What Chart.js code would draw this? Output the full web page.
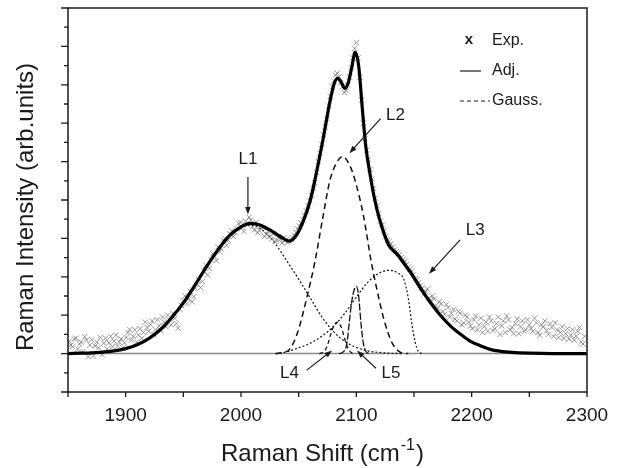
<!DOCTYPE html>
<html lang="en">
<head>
    <meta charset="UTF-8">
    <title>Raman spectrum - Gaussian fit</title>
    <script src="https://cdn.jsdelivr.net/npm/chart.js"></script>
    <style>
        body { margin: 0; background: #fff; }
        .chart-box { position: relative; width: 620px; height: 468px; }
    </style>
</head>
<body>
    <div class="chart-box">
        <canvas id="ramanChart"></canvas>
    </div>

    <script>
        // axis ticks
        const xTicks = [1850, 1900, 1950, 2000, 2050, 2100, 2150, 2200, 2250, 2300];
        const xLabels = [1900, 2000, 2100, 2200, 2300];
        const yMajor = [-1, 0, 1, 2, 3, 4, 5, 6, 7, 8, 9];
        const yMinor = [-0.5, 0.5, 1.5, 2.5, 3.5, 4.5, 5.5, 6.5, 7.5, 8.5];

        // experimental points (Exp.)
        const expX = [1851, 1854, 1857, 1860, 1863, 1866, 1869, 1872, 1875, 1878, 1881, 1884, 1887, 1890, 1893, 1896, 1899,
            1902, 1905, 1908, 1911, 1914, 1917, 1920, 1923, 1926, 1929, 1932, 1935, 1938, 1941, 1944, 1947,
            1950, 1953, 1956, 1959, 1962, 1965, 1968, 1971, 1974, 1977, 1980, 1983, 1986, 1989, 1992, 1995, 1998,
            2001, 2004, 2007, 2010, 2013, 2016, 2019, 2022, 2025, 2028, 2031, 2034, 2037, 2040, 2043, 2046, 2049,
            2052, 2055, 2058, 2061, 2064, 2067, 2070, 2073, 2076, 2079, 2082, 2085, 2088, 2091, 2094, 2097, 2100,
            2103, 2106, 2109, 2112, 2115, 2118, 2121, 2124, 2127, 2130, 2133, 2136, 2139, 2142, 2145, 2148, 2151,
            2154, 2157, 2160, 2163, 2166, 2169, 2172, 2175, 2178, 2181, 2184, 2187, 2190, 2193, 2196, 2199, 2202,
            2205, 2208, 2211, 2214, 2217, 2220, 2223, 2226, 2229, 2232, 2235, 2238, 2241, 2244, 2247, 2250, 2253,
            2256, 2259, 2262, 2265, 2268, 2271, 2274, 2277, 2280, 2283, 2286, 2289, 2292, 2295, 2298];
        const expY = [0.32, 0.18, 0.40, 0.25, 0.05, 0.35, 0.22, -0.06, 0.30, 0.42, 0.27, 0.12, 0.45, 0.33, 0.20, 0.38, 0.28,
            0.55, 0.35, 0.62, 0.48, 0.40, 0.82, 0.58, 0.85, 0.62, 0.72, 0.95, 0.70, 0.88, 1.05, 0.78, 1.15,
            1.38, 1.30, 1.62, 1.48, 1.80, 1.72, 2.15, 2.05, 2.45, 2.52, 2.78, 2.72, 3.00, 2.95, 3.20, 3.15, 3.38,
            3.28, 3.45, 3.55, 3.30, 3.42, 3.20, 3.28, 3.10, 3.05, 3.12, 2.95, 2.98, 3.02, 2.90, 2.98, 3.08, 3.25,
            3.40, 3.60, 3.85, 4.12, 4.45, 5.00, 5.45, 5.90, 6.45, 6.95, 7.25, 7.20, 6.95, 6.85, 7.20, 7.70, 8.10,
            7.20, 6.00, 5.30, 4.80, 4.30, 3.85, 3.45, 3.20, 2.95, 2.85, 2.70, 2.62, 2.50, 2.40, 2.25, 2.15, 1.95,
            1.85, 1.70, 1.62, 1.45, 1.50, 1.25, 1.35, 1.10, 1.28, 0.95, 1.15, 0.85, 1.05, 0.80, 0.95, 0.72, 0.88,
            0.62, 0.92, 0.70, 0.58, 0.85, 0.65, 0.95, 0.72, 0.55, 0.88, 0.68, 0.78, 0.52, 0.85, 0.62, 0.75, 0.58,
            0.80, 0.48, 0.70, 0.60, 0.78, 0.45, 0.62, 0.55, 0.40, 0.65, 0.48, 0.35, 0.58, 0.30, 0.45];
        // second, interleaved pass of the same measurement
        const expX2 = [1852.5, 1855.5, 1858.5, 1861.5, 1864.5, 1867.5, 1870.5, 1873.5, 1876.5, 1879.5,
            1882.5, 1885.5, 1888.5, 1891.5, 1894.5, 1897.5, 1900.5, 1903.5, 1906.5, 1909.5,
            1912.5, 1915.5, 1918.5, 1921.5, 1924.5, 1927.5, 1930.5, 1933.5, 1936.5, 1939.5,
            1942.5, 1945.5, 1948.5, 1951.5, 1954.5, 1957.5, 1960.5, 1963.5, 1966.5, 1969.5,
            1972.5, 1975.5, 1978.5, 1981.5, 1984.5, 1987.5, 1990.5, 1993.5, 1996.5, 1999.5,
            2002.5, 2005.5, 2008.5, 2011.5, 2014.5, 2017.5, 2020.5, 2023.5, 2026.5, 2029.5,
            2032.5, 2035.5, 2038.5, 2041.5, 2044.5, 2047.5, 2050.5, 2053.5, 2056.5, 2059.5,
            2062.5, 2065.5, 2068.5, 2071.5, 2074.5, 2077.5, 2080.5, 2083.5, 2086.5, 2089.5,
            2092.5, 2095.5, 2098.5, 2101.5, 2104.5, 2107.5, 2110.5, 2113.5, 2116.5, 2119.5,
            2122.5, 2125.5, 2128.5, 2131.5, 2134.5, 2137.5, 2140.5, 2143.5, 2146.5, 2149.5,
            2152.5, 2155.5, 2158.5, 2161.5, 2164.5, 2167.5, 2170.5, 2173.5, 2176.5, 2179.5,
            2182.5, 2185.5, 2188.5, 2191.5, 2194.5, 2197.5, 2200.5, 2203.5, 2206.5, 2209.5,
            2212.5, 2215.5, 2218.5, 2221.5, 2224.5, 2227.5, 2230.5, 2233.5, 2236.5, 2239.5,
            2242.5, 2245.5, 2248.5, 2251.5, 2254.5, 2257.5, 2260.5, 2263.5, 2266.5, 2269.5,
            2272.5, 2275.5, 2278.5, 2281.5, 2284.5, 2287.5, 2290.5, 2293.5, 2296.5];
        const expY2 = [0.22, 0.38, 0.12, 0.30, 0.44, -0.08, 0.36, 0.20, 0.15, -0.03,
            0.40, 0.28, 0.18, 0.48, 0.30, 0.15, 0.42, 0.62, 0.45, 0.30,
            0.65, 0.55, 0.68, 0.75, 0.50, 0.88, 0.60, 0.82, 1.00, 0.75,
            0.92, 0.66, 1.25, 1.50, 1.42, 1.35, 1.70, 1.92, 1.88, 2.30,
            2.22, 2.60, 2.42, 2.65, 2.95, 2.82, 3.12, 3.05, 3.25, 3.42,
            3.18, 3.35, 3.48, 3.22, 3.15, 3.32, 3.05, 3.18, 2.98, 2.92,
            3.05, 2.88, 2.95, 2.92, 3.02, 3.15, 3.32, 3.48, 3.72, 3.98,
            4.30, 4.72, 5.22, 5.70, 6.12, 6.70, 7.10, 7.30, 7.05, 6.80,
            7.00, 7.45, 7.95, 7.70, 6.60, 5.60, 5.05, 4.55, 4.05, 3.65,
            3.35, 3.05, 2.92, 2.78, 2.65, 2.58, 2.45, 2.32, 2.20, 2.05,
            1.92, 1.78, 1.55, 1.68, 1.38, 1.42, 1.18, 1.30, 1.02, 1.20,
            1.05, 0.90, 1.10, 0.75, 1.00, 0.82, 0.65, 0.98, 0.75, 0.55,
            0.82, 0.95, 0.60, 0.78, 0.50, 0.85, 0.98, 0.62, 0.52, 0.90,
            0.70, 0.58, 0.88, 0.66, 0.92, 0.55, 0.75, 0.85, 0.50, 0.68,
            0.80, 0.42, 0.70, 0.52, 0.38, 0.62, 0.45, 0.68, 0.25];

        // adjusted curve (Adj.)
        const fitX = [1850, 1860, 1870, 1880, 1890, 1900, 1910, 1920, 1930, 1940, 1950, 1960, 1970, 1980, 1990, 2000,
            2008, 2015, 2025, 2035, 2042, 2048, 2054, 2060, 2066, 2072, 2077, 2081, 2084, 2087, 2090, 2093, 2096,
            2099, 2102, 2105, 2108, 2112, 2116, 2120, 2128, 2135, 2142, 2148, 2157, 2165, 2174, 2182, 2191, 2199,
            2208, 2216, 2225, 2235, 2250, 2270, 2300];
        const fitY = [0.00, 0.01, 0.02, 0.04, 0.07, 0.13, 0.23, 0.39, 0.62, 0.94, 1.32, 1.78, 2.26, 2.70, 3.07, 3.30,
            3.39, 3.36, 3.22, 3.03, 2.93, 3.08, 3.45, 3.98, 4.80, 5.72, 6.55, 7.05, 7.17, 7.06, 6.91, 7.05, 7.45,
            7.85, 7.50, 6.45, 5.45, 4.65, 4.00, 3.51, 2.83, 2.60, 2.32, 2.07, 1.64, 1.30, 0.96, 0.71, 0.49, 0.32,
            0.20, 0.11, 0.06, 0.03, 0.01, 0.00, 0.00];

        // Gaussian components L1..L5
        const l1X = [1850, 1860, 1870, 1880, 1890, 1900, 1910, 1920, 1930, 1940, 1950, 1960, 1970, 1980, 1990, 2000,
            2010, 2020, 2030, 2040, 2050, 2060, 2070, 2080, 2090, 2100, 2110, 2120, 2130, 2140];
        const l1Y = [0.00, 0.01, 0.02, 0.04, 0.07, 0.13, 0.23, 0.39, 0.62, 0.94, 1.32, 1.78, 2.26, 2.70, 3.06, 3.29,
            3.34, 3.18, 2.85, 2.40, 1.94, 1.45, 0.96, 0.58, 0.32, 0.16, 0.07, 0.03, 0.01, 0.00];
        const l2X = [2030, 2036, 2042, 2049, 2057, 2064, 2071, 2077, 2082, 2088, 2094, 2099, 2106, 2113, 2118, 2124, 2131, 2138, 2145];
        const l2Y = [0.00, 0.03, 0.11, 0.54, 1.45, 2.38, 3.55, 4.50, 4.92, 5.13, 4.92, 4.50, 3.62, 2.38, 1.65, 0.88, 0.28, 0.04, 0.00];
        const l3X = [2030, 2040, 2050, 2060, 2070, 2080, 2090, 2100, 2110, 2120, 2129, 2136, 2141, 2145, 2148, 2151, 2154, 2158];
        const l3Y = [0.00, 0.05, 0.15, 0.27, 0.45, 0.70, 1.05, 1.47, 1.86, 2.10, 2.17, 2.10, 1.95, 1.45, 0.80, 0.30, 0.05, 0.00];
        const l4X = [2068, 2072, 2075, 2078, 2081, 2084, 2087, 2090, 2093, 2096, 2099];
        const l4Y = [0.00, 0.05, 0.22, 0.52, 0.76, 0.82, 0.68, 0.38, 0.12, 0.02, 0.00];
        const l5X = [2085, 2089, 2092, 2094, 2096, 2098, 2100, 2102, 2104, 2106, 2108, 2111];
        const l5Y = [0.00, 0.05, 0.30, 0.85, 1.35, 1.65, 1.75, 1.50, 0.80, 0.28, 0.07, 0.00];

        const pts = (xs, ys) => xs.map((x, i) => ({ x: x, y: ys[i] }));

        const FONT = "'Liberation Sans', Arial, sans-serif";

        // labels with arrows, in data units: text position, arrow start, arrow tip
        const notes = [
            { text: 'L1', tx: 2006, ty: 5.05, ax: 2006, ay: 4.6, bx: 2006, by: 3.62 },
            { text: 'L2', tx: 2134, ty: 6.2, ax: 2121, ay: 6.12, bx: 2094, by: 5.22 },
            { text: 'L3', tx: 2203, ty: 3.2, ax: 2190, ay: 2.96, bx: 2163, by: 2.08 },
            { text: 'L4', tx: 2042, ty: -0.52, ax: 2057, ay: -0.43, bx: 2079, by: 0.08 },
            { text: 'L5', tx: 2130, ty: -0.52, ax: 2117, ay: -0.38, bx: 2100.5, by: 0.08 }
        ];

        function arrow(ctx, x1, y1, x2, y2) {
            const ang = Math.atan2(y2 - y1, x2 - x1);
            ctx.beginPath();
            ctx.moveTo(x1, y1);
            ctx.lineTo(x2 - 5 * Math.cos(ang), y2 - 5 * Math.sin(ang));
            ctx.stroke();
            ctx.beginPath();
            ctx.moveTo(x2, y2);
            ctx.lineTo(x2 - 8 * Math.cos(ang - 0.35), y2 - 8 * Math.sin(ang - 0.35));
            ctx.lineTo(x2 - 8 * Math.cos(ang + 0.35), y2 - 8 * Math.sin(ang + 0.35));
            ctx.closePath();
            ctx.fill();
        }

        const baselinePlugin = {
            id: 'baseline',
            beforeDatasetsDraw(chart) {
                const { ctx, chartArea: a, scales: { y } } = chart;
                const y0 = y.getPixelForValue(0);
                ctx.save();
                ctx.strokeStyle = '#8a8a8a';
                ctx.lineWidth = 1.5;
                ctx.beginPath();
                ctx.moveTo(a.left, y0);
                ctx.lineTo(a.right, y0);
                ctx.stroke();
                ctx.restore();
            }
        };

        const framePlugin = {
            id: 'frame',
            afterDraw(chart) {
                const { ctx, chartArea: a, scales: { x, y } } = chart;
                ctx.save();
                ctx.strokeStyle = '#1a1a1a';
                ctx.fillStyle = '#1a1a1a';
                ctx.lineWidth = 1.5;
                ctx.strokeRect(a.left, a.top, a.right - a.left, a.bottom - a.top);

                // ticks
                ctx.lineWidth = 1.3;
                ctx.beginPath();
                xTicks.forEach(v => {
                    const px = x.getPixelForValue(v);
                    ctx.moveTo(px, a.bottom);
                    ctx.lineTo(px, a.bottom + 5);
                });
                yMajor.forEach(v => {
                    const py = y.getPixelForValue(v);
                    ctx.moveTo(a.left, py);
                    ctx.lineTo(a.left - 7, py);
                });
                yMinor.forEach(v => {
                    const py = y.getPixelForValue(v);
                    ctx.moveTo(a.left, py);
                    ctx.lineTo(a.left - 4, py);
                });
                ctx.stroke();

                // tick labels
                ctx.font = '19px ' + FONT;
                ctx.textAlign = 'center';
                ctx.textBaseline = 'middle';
                xLabels.forEach(v => ctx.fillText(String(v), x.getPixelForValue(v), a.bottom + 24));

                // x title with superscript
                const main = 'Raman Shift (cm', sup = '-1', close = ')';
                ctx.font = '24px ' + FONT;
                const wMain = ctx.measureText(main).width;
                const wClose = ctx.measureText(close).width;
                ctx.font = '16px ' + FONT;
                const wSup = ctx.measureText(sup).width;
                let sx = (a.left + a.right) / 2 - (wMain + wSup + wClose) / 2 - 6;
                ctx.textAlign = 'left';
                ctx.textBaseline = 'alphabetic';
                ctx.font = '24px ' + FONT;
                ctx.fillText(main, sx, 461);
                ctx.font = '16px ' + FONT;
                ctx.fillText(sup, sx + wMain + 1, 450);
                ctx.font = '24px ' + FONT;
                ctx.fillText(close, sx + wMain + wSup + 2, 461);

                // y title
                ctx.save();
                ctx.translate(33, 207);
                ctx.rotate(-Math.PI / 2);
                ctx.textAlign = 'center';
                ctx.fillText('Raman Intensity (arb.units)', 0, 0);
                ctx.restore();

                // legend
                const lx = a.right - 127, tx = a.right - 95;
                ctx.font = '16px ' + FONT;
                ctx.textBaseline = 'middle';
                ctx.textAlign = 'left';
                ctx.fillText('Exp.', tx, a.top + 33);
                ctx.fillText('Adj.', tx, a.top + 63);
                ctx.fillText('Gauss.', tx, a.top + 93);
                ctx.font = 'bold 15px ' + FONT;
                ctx.textAlign = 'center';
                ctx.fillText('x', lx + 9, a.top + 32);
                ctx.lineWidth = 1.2;
                ctx.beginPath();
                ctx.moveTo(lx, a.top + 63);
                ctx.lineTo(lx + 21, a.top + 63);
                ctx.stroke();
                ctx.setLineDash([4, 3]);
                ctx.beginPath();
                ctx.moveTo(lx, a.top + 93);
                ctx.lineTo(lx + 30, a.top + 93);
                ctx.stroke();
                ctx.setLineDash([]);

                // peak labels
                ctx.font = '17px ' + FONT;
                ctx.textAlign = 'center';
                ctx.textBaseline = 'middle';
                ctx.lineWidth = 1.2;
                notes.forEach(n => {
                    ctx.fillText(n.text, x.getPixelForValue(n.tx), y.getPixelForValue(n.ty));
                    arrow(ctx, x.getPixelForValue(n.ax), y.getPixelForValue(n.ay),
                        x.getPixelForValue(n.bx), y.getPixelForValue(n.by));
                });
                ctx.restore();
            }
        };

        const gauss = (label, xs, ys, dash, width) => ({
            label: label,
            data: pts(xs, ys),
            borderColor: '#111',
            borderWidth: width,
            borderDash: dash,
            pointRadius: 0,
            fill: false,
            cubicInterpolationMode: 'monotone'
        });

        new Chart(document.getElementById('ramanChart'), {
            type: 'line',
            data: {
                datasets: [
                    {
                        label: 'Adj.',
                        data: pts(fitX, fitY),
                        borderColor: '#000',
                        borderWidth: 3.2,
                        pointRadius: 0,
                        fill: false,
                        cubicInterpolationMode: 'monotone'
                    },
                    {
                        label: 'Exp.',
                        data: pts(expX, expY).concat(pts(expX2, expY2)),
                        showLine: false,
                        pointStyle: 'crossRot',
                        pointRadius: 3.8,
                        borderWidth: 1,
                        borderColor: 'rgba(115, 115, 115, 0.75)',
                        backgroundColor: 'rgba(115, 115, 115, 0.75)'
                    },
                    gauss('L1', l1X, l1Y, [2, 2], 1.2),
                    gauss('L2', l2X, l2Y, [6, 4], 1.5),
                    gauss('L3', l3X, l3Y, [2, 2], 1.2),
                    gauss('L4', l4X, l4Y, [4, 3], 1.3),
                    gauss('L5', l5X, l5Y, [7, 2], 1.3)
                ]
            },
            options: {
                responsive: true,
                maintainAspectRatio: false,
                animation: false,
                layout: { padding: { left: 60, right: 33, top: 8, bottom: 68 } },
                scales: {
                    x: {
                        type: 'linear',
                        min: 1850,
                        max: 2300,
                        grid: { display: false },
                        border: { display: false },
                        ticks: { display: false }
                    },
                    y: {
                        min: -1,
                        max: 9,
                        grid: { display: false },
                        border: { display: false },
                        ticks: { display: false }
                    }
                },
                plugins: {
                    legend: { display: false },
                    tooltip: { enabled: false }
                }
            },
            plugins: [baselinePlugin, framePlugin]
        });
    </script>
</body>
</html>
